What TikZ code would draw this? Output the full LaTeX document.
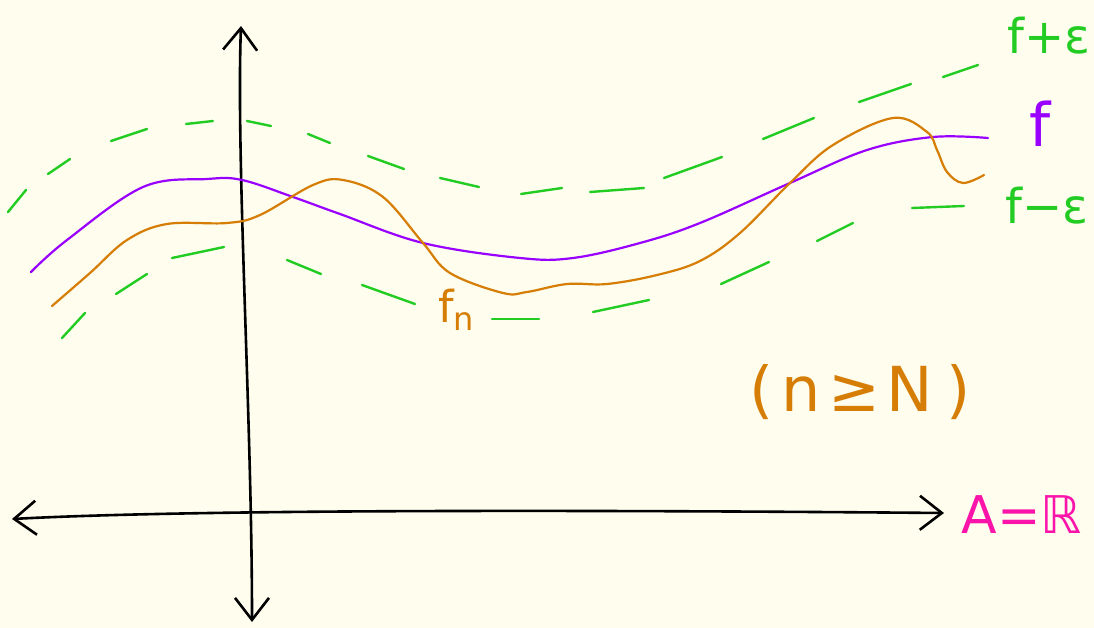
\documentclass[tikz,border=0pt]{standalone}
\usepackage{fontspec}
\setmainfont{DejaVu Sans}
\usepackage{tikz}
\usetikzlibrary{arrows.meta}

\definecolor{paper}{RGB}{254,253,238}
\definecolor{epsgreen}{RGB}{34,204,34}
\definecolor{fpurple}{RGB}{153,0,255}
\definecolor{fnorange}{RGB}{214,125,5}
\definecolor{setpink}{RGB}{250,20,170}

\tikzset{
  axis/.style={line width=2.6pt, black, line cap=round, {Straight Barb[length=22pt, width=34pt]}-{Straight Barb[length=22pt, width=34pt]}},
  fline/.style={line width=2.2pt, fpurple, line cap=round},
  fnline/.style={line width=2.2pt, fnorange, line cap=round},
  epsdash/.style={line width=2.4pt, epsgreen, line cap=round},
  biglabel/.style={font=\fontsize{48}{54}\selectfont, inner sep=0pt}
}

\begin{document}
\begin{tikzpicture}[x=1pt, y=-1pt]
\fill[paper] (0,0) rectangle (1094,628);
\useasboundingbox (0,0) rectangle (1094,628);

% axes
\coordinate (xl) at (12,519);
\coordinate (xr) at (944,513);
\coordinate (yt) at (241,26);
\coordinate (yb) at (252,622);
\draw[axis] (xl) .. controls (200,509) and (600,510) .. (xr);
\draw[axis] (yb) .. controls (252,420) and (236,160) .. (yt);

% f + eps and f - eps, dashed by hand
\foreach \xa/\ya/\xb/\yb in {8/212/26/190, 48/174/70/159, 111/141/147/129, 186/124/213/121,
  247/121/271/126, 308/134/330/143, 368/156/404/169, 440/178/479/187, 521/194/562/188,
  590/192/644/188, 664/178/722/157, 763/139/814/118, 859/102/911/84, 943/77/978/65} {
  \draw[epsdash] (\xa,\ya) -- (\xb,\yb);
}
\foreach \xa/\ya/\xb/\yb in {62/338/85/313, 116/294/147/274, 172/258/224/247, 287/260/321/274,
  362/285/415/304, 492/319/539/319, 593/312/649/300, 721/284/769/262, 817/241/853/223,
  912/208/964/206} {
  \draw[epsdash] (\xa,\ya) -- (\xb,\yb);
}

% f
\draw[fline] plot[smooth, tension=0.6] coordinates {(31,272) (67,240) (143,187) (207,179)
  (242,180) (293,197) (340,214) (423,243) (520,258) (573,258) (640,243) (700,223)
  (790,183) (867,150) (933,137) (988,138)};

% f_n
\draw[fnline] plot[smooth, tension=0.6] coordinates {(52,306) (90,273) (127,240) (167,224)
  (227,223) (260,215) (313,185) (343,180) (383,197) (423,243) (450,273) (503,293)
  (527,292) (567,284) (607,284) (657,275) (700,261) (740,233) (790,183) (833,145)
  (893,118) (927,132) (937,150) (947,172) (963,183) (984,175)};

% labels
\node[biglabel, epsgreen] (fplus) at (1049,36) {f+ε};
\node[biglabel, fpurple, font=\fontsize{60}{66}\selectfont] (flab) at (1040,124) {f};
\node[biglabel, epsgreen] (fminus) at (1047,206) {f−ε};
\node[biglabel, fnorange, font=\fontsize{44}{50}\selectfont] (fnlab) at (456,310) {f\raisebox{-8pt}{\fontsize{32}{36}\selectfont n}};
\node[biglabel, fnorange, font=\fontsize{62}{68}\selectfont] (nbig) at (860,392) {(\hspace{8pt}n\hspace{8pt}≥\hspace{6pt}N\hspace{14pt})};
\node[biglabel, setpink, font=\fontsize{52}{58}\selectfont] (Aset) at (1022,515) {A=ℝ};
\end{tikzpicture}
\end{document}
